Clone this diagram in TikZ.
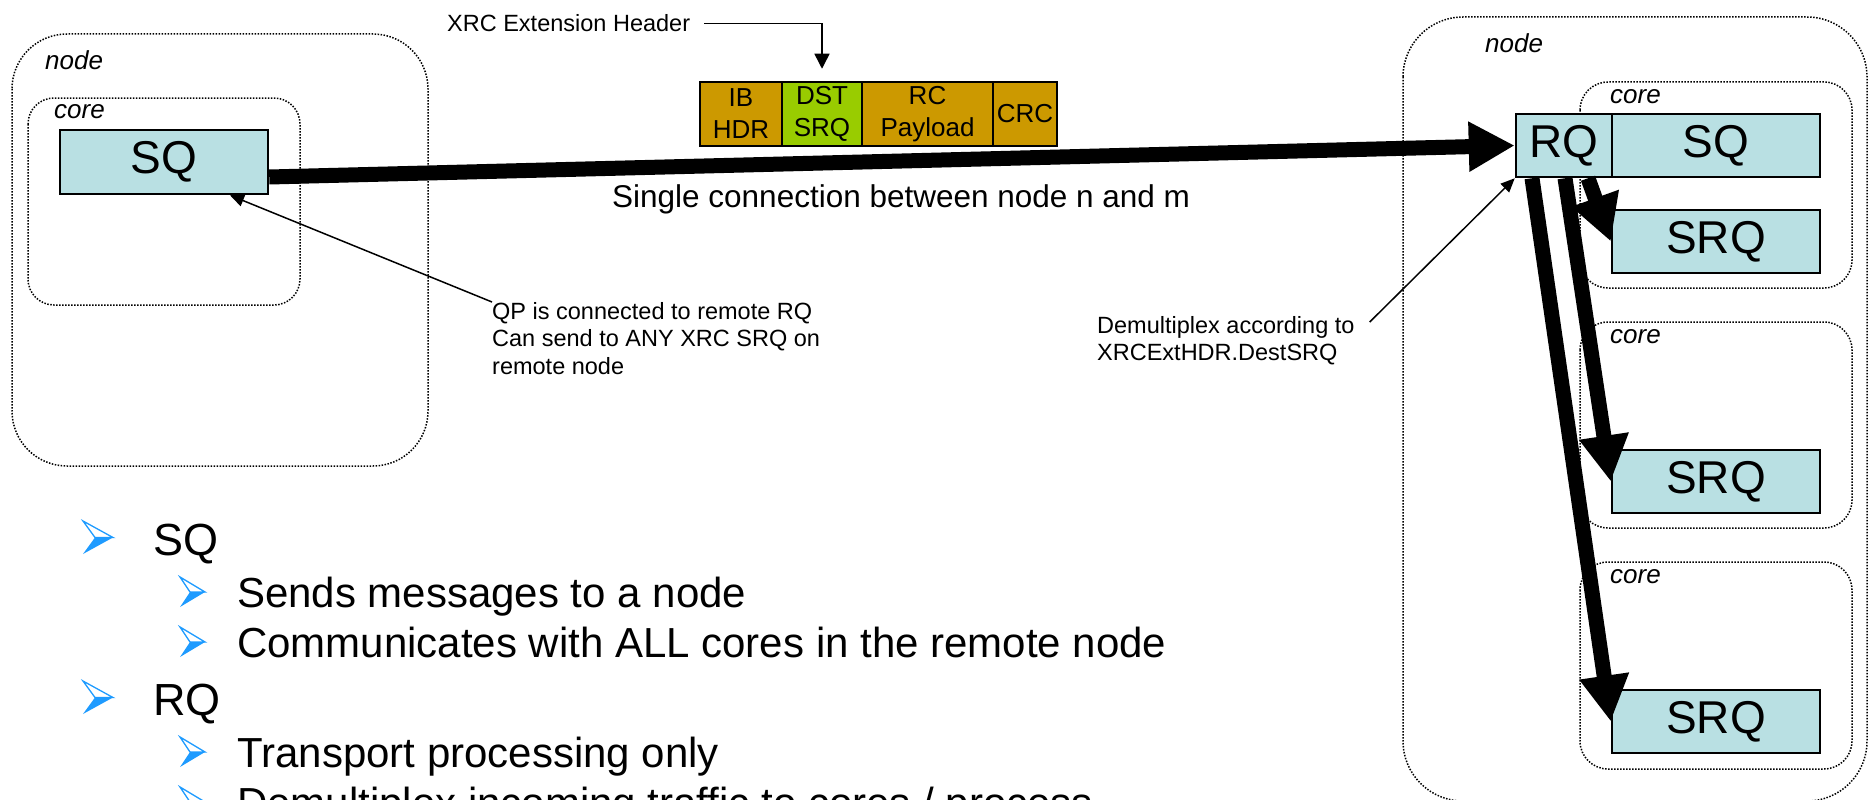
\documentclass[tikz,border=0pt]{standalone}
\usepackage{fontspec}
\setmainfont{Liberation Sans}
\usetikzlibrary{arrows.meta,calc}
\definecolor{qfill}{HTML}{B9E0E3}
\definecolor{ochre}{HTML}{CC9900}
\definecolor{limeg}{HTML}{99CC00}
\definecolor{bblue}{HTML}{1E9BFF}
\newcommand\fs[2]{\fontsize{#1}{#2}\selectfont}
\newcommand\blt[4]{%
  \fill[bblue] (#1+0.4*#3,#2+0.5*#4) -- (#1+#3,#2+0.5*#4) -- (#1,#2+#4) -- cycle;
  \draw[bblue,line width=1.3pt,line join=miter] (#1,#2) -- (#1+#3,#2+0.5*#4) -- (#1+0.4*#3,#2+0.5*#4) -- cycle;}
\begin{document}
\begin{tikzpicture}[x=1pt,y=-1pt,
  dotbox/.style={draw, line width=1.5pt, dash pattern=on 1.5pt off 1.5pt, rounded corners=#1},
  qbox/.style={draw, line width=2.5pt, fill=qfill, inner sep=0pt, minimum height=63pt, font=\fs{46}{50}},
  pkt/.style={draw, line width=2.5pt, inner sep=0pt, minimum height=64pt, align=center, font=\fs{26}{32}},
  lbl/.style={inner sep=0pt, anchor=base west, font=\fs{26}{30}\itshape},
  note/.style={inner sep=0pt, align=left, font=\fs{23.5}{27.5}},
  fat/.style={line width=15pt, -{Triangle[length=46pt,width=47pt]}},
  thin/.style={line width=1.5pt, -{Triangle[length=14pt,width=12pt]}},
  btext/.style={inner sep=0pt, anchor=base west}]
\clip (0,0) rectangle (1872,800);
% containers
\draw[dotbox=55pt] (12,34) rectangle (428,466);
\draw[dotbox=26pt] (28,98) rectangle (300,305);
\draw[dotbox=60pt] (1403,17) rectangle (1867,801);
\draw[dotbox=28pt] (1580,82) rectangle (1852,288);
\draw[dotbox=28pt] (1580,322) rectangle (1852,528);
\draw[dotbox=28pt] (1580,562) rectangle (1852,769);
\node[lbl] (nodeL) at (45,70) {node};
\node[lbl] (coreL) at (54,118) {core};
\node[lbl] (nodeR) at (1485,53) {node};
\node[lbl] (coreR1) at (1610,103) {core};
\node[lbl] (coreR2) at (1610,343) {core};
\node[lbl] (coreR3) at (1610,583) {core};
% queues
\node[qbox, minimum width=208pt, minimum height=64pt] (SQL) at (164,162) {SQ};
\node[qbox, minimum width=96pt] (RQ) at (1564,145.5) {RQ};
\node[qbox, minimum width=208pt] (SQR) at (1716,145.5) {SQ};
\node[qbox, minimum width=208pt] (SRQ1) at (1716,241.5) {SRQ};
\node[qbox, minimum width=208pt] (SRQ2) at (1716,481.5) {SRQ};
\node[qbox, minimum width=208pt] (SRQ3) at (1716,721.5) {SRQ};
% packet
\node[pkt, fill=ochre, minimum width=82pt] (ib) at (741,114) {IB\\HDR};
\node[pkt, fill=limeg, minimum width=80pt] (dst) at (822,114) {DST\\SRQ};
\node[pkt, fill=ochre, minimum width=131pt] (rc) at (927.5,114) {RC\\Payload};
\node[pkt, fill=ochre, minimum width=64pt] (crc) at (1025,114) {CRC};
\node[inner sep=0pt, anchor=base west, font=\fs{23.5}{27.5}] (xrc) at (447,32) {XRC Extension Header};
\draw[line width=1.5pt, -{Triangle[length=15pt,width=15pt]}] ([xshift=14pt]xrc.east) -| ([yshift=12pt]dst.north);
% connection
\draw[fat] ([yshift=-15pt]SQL.east) -- (RQ.west);
\node[inner sep=0pt, anchor=base west, font=\fs{31.5}{36}] (conn) at (612,207) {Single connection between node n and m};
\draw[fat] ([xshift=24pt]RQ.south) -- (SRQ1.west);
\draw[fat] ([xshift=1pt]RQ.south) -- (SRQ2.west);
\draw[fat] ([xshift=-32pt]RQ.south) -- (SRQ3.west);
% notes
\node[note, anchor=north west] (qp) at (492,302) {QP is connected to remote RQ\\Can send to ANY XRC SRQ on\\remote node};
\draw[thin] (qp.north west) -- ([xshift=66pt]SQL.south);
\node[note, anchor=north west] (demux) at (1097,316) {Demultiplex according to\\XRCExtHDR.DestSRQ};
\draw[thin] ([xshift=15pt,yshift=-6pt]demux.north east) -- (RQ.south west);
% bullets
\blt{83}{521}{30}{33}
\node[btext, font=\fs{45}{50}] (b1) at (153,555) {SQ};
\blt{180}{577}{25}{30}
\node[btext, font=\fs{42}{50}] (b2) at (237,607) {Sends messages to a node};
\blt{180}{627}{25}{30}
\node[btext, font=\fs{42}{50}] (b3) at (237,657) {Communicates with ALL cores in the remote node};
\blt{83}{681}{30}{33}
\node[btext, font=\fs{45}{50}] (b4) at (153,715) {RQ};
\blt{180}{737}{25}{30}
\node[btext, font=\fs{42}{50}] (b5) at (237,767) {Transport processing only};
\blt{180}{787}{25}{30}
\node[btext, font=\fs{42}{50}] (b6) at (237,817) {Demultiplex incoming traffic to cores / process};
\end{tikzpicture}
\end{document}
